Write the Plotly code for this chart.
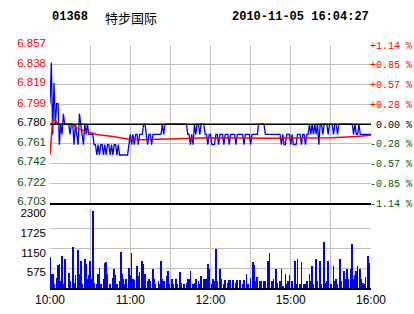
import plotly.graph_objects as go

# ---------------- data ----------------
stock_code = "01368"
stock_name = "特步国际"
timestamp = "2010-11-05 16:04:27"
prev_close = 6.78

# one price per trading minute (10:00-12:30, 14:30-16:00 -> 241 points)
prices = [
    6.80, 6.84, 6.77, 6.82, 6.78, 6.80, 6.80, 6.76, 6.78, 6.77,
    6.79, 6.78, 6.78, 6.78, 6.78, 6.77, 6.78, 6.78, 6.76, 6.78,
    6.77, 6.76, 6.79, 6.78, 6.77, 6.76, 6.78, 6.77, 6.78, 6.77,
    6.77, 6.77, 6.77, 6.76, 6.76, 6.75, 6.76, 6.75, 6.76, 6.76,
    6.75, 6.76, 6.75, 6.76, 6.76, 6.75, 6.76, 6.75, 6.76, 6.76,
    6.75, 6.76, 6.75, 6.75, 6.75, 6.75, 6.75, 6.75, 6.75, 6.76,
    6.77, 6.76, 6.77, 6.76, 6.77, 6.77, 6.76, 6.77, 6.77, 6.77,
    6.78, 6.78, 6.77, 6.76, 6.77, 6.77, 6.76, 6.77, 6.77, 6.77,
    6.77, 6.77, 6.77, 6.77, 6.78, 6.77, 6.78, 6.78, 6.78, 6.78,
    6.78, 6.78, 6.78, 6.78, 6.78, 6.78, 6.78, 6.78, 6.78, 6.78,
    6.78, 6.78, 6.78, 6.77, 6.77, 6.76, 6.77, 6.76, 6.78, 6.77,
    6.78, 6.78, 6.77, 6.78, 6.78, 6.78, 6.77, 6.77, 6.76, 6.77,
    6.77, 6.76, 6.76, 6.76, 6.77, 6.77, 6.76, 6.77, 6.77, 6.77,
    6.76, 6.77, 6.77, 6.77, 6.76, 6.77, 6.77, 6.77, 6.77, 6.76,
    6.77, 6.77, 6.77, 6.77, 6.77, 6.76, 6.77, 6.77, 6.77, 6.77,
    6.76, 6.77, 6.77, 6.77, 6.77, 6.77, 6.78, 6.78, 6.78, 6.78,
    6.78, 6.77, 6.77, 6.77, 6.77, 6.77, 6.77, 6.77, 6.77, 6.77,
    6.77, 6.77, 6.77, 6.76, 6.77, 6.76, 6.76, 6.77, 6.77, 6.77,
    6.76, 6.77, 6.76, 6.76, 6.76, 6.77, 6.77, 6.77, 6.76, 6.77,
    6.77, 6.76, 6.77, 6.77, 6.78, 6.77, 6.78, 6.77, 6.78, 6.77,
    6.78, 6.76, 6.78, 6.78, 6.77, 6.78, 6.78, 6.78, 6.77, 6.78,
    6.78, 6.78, 6.77, 6.78, 6.78, 6.77, 6.78, 6.78, 6.78, 6.78,
    6.78, 6.78, 6.78, 6.78, 6.78, 6.78, 6.78, 6.77, 6.78, 6.77,
    6.77, 6.78, 6.77, 6.77, 6.77, 6.77, 6.77, 6.77, 6.77, 6.77, 6.77,
]
minutes = list(range(len(prices)))

# average price line (read at change points)
avg_minutes = [0, 1, 2, 4, 6, 16, 18, 22, 29, 35, 47, 59, 69, 88, 120, 163, 187, 211, 229, 240]
avg_values = [6.750, 6.770, 6.784, 6.784, 6.780, 6.780, 6.778, 6.775, 6.772, 6.770,
              6.768, 6.7654, 6.7647, 6.7654, 6.7667, 6.7663, 6.7665, 6.7668, 6.768, 6.7693]

# volume bars
vol_minutes = [0, 1, 2, 3, 5, 6, 7, 8, 9, 10, 11, 14, 15, 17, 18, 19, 21, 22, 23, 24,
               26, 27, 28, 29, 30, 31, 32, 33, 35, 36, 37, 38, 40, 41, 42, 43, 45, 47, 48, 49,
               50, 52, 53, 54, 55, 56, 57, 59, 60, 61, 62, 63, 65, 66, 67, 69, 70, 71, 73, 74,
               75, 77, 78, 79, 81, 82, 83, 84, 85, 87, 88, 89, 91, 92, 94, 95, 97, 98, 100, 102,
               103, 104, 105, 107, 108, 109, 111, 112, 113, 115, 116, 117, 118, 119, 121, 122, 123, 124, 125, 127,
               128, 130, 131, 133, 134, 135, 137, 139, 140, 142, 144, 145, 147, 148, 150, 152, 153, 154, 155, 157,
               158, 160, 161, 163, 164, 166, 167, 169, 170, 172, 173, 174, 176, 177, 178, 179, 181, 183, 184, 185,
               187, 188, 190, 191, 192, 194, 195, 196, 197, 199, 200, 202, 203, 205, 206, 207, 208, 210, 212, 213,
               214, 215, 217, 218, 220, 221, 222, 223, 225, 226, 227, 228, 229, 230, 232, 233, 234, 235, 236, 238,
               239]
vol_values = [892, 388, 388, 97, 290, 650, 680, 194, 940, 97, 825, 417, 194, 1183, 145, 359, 1115, 388, 795, 97,
              825, 680, 243, 359, 795, 243, 2230, 145, 97, 388, 582, 97, 243, 708, 747, 388, 97, 290, 533, 359,
              97, 194, 1038, 388, 243, 97, 243, 582, 359, 1018, 262, 213, 630, 340, 456, 795, 680, 388, 194, 243,
              194, 533, 243, 97, 194, 97, 776, 243, 194, 340, 485, 97, 243, 97, 243, 97, 456, 145, 97, 145,
              243, 243, 485, 97, 145, 243, 194, 97, 340, 243, 262, 262, 680, 533, 97, 243, 194, 1135, 194, 533,
              243, 97, 213, 145, 213, 213, 213, 145, 213, 213, 97, 213, 388, 97, 272, 747, 660, 194, 320, 194,
              194, 194, 194, 776, 1018, 194, 243, 533, 145, 194, 553, 49, 388, 97, 194, 359, 194, 795, 97, 825,
              97, 747, 97, 97, 194, 388, 194, 630, 97, 825, 194, 795, 97, 1329, 145, 194, 776, 97, 630, 194,
              262, 97, 825, 194, 485, 262, 533, 243, 533, 1290, 243, 359, 485, 630, 533, 262, 145, 97, 320, 921,
              727]

price_ticks = [6.703, 6.722, 6.742, 6.761, 6.780, 6.799, 6.819, 6.838, 6.857]
pct_ticks = ["-1.14 %", "-0.85 %", "-0.57 %", "-0.28 %", "\u00a00.00 %", "+0.28 %", "+0.57 %", "+0.85 %", "+1.14 %"]
vol_ticks = [0, 575, 1150, 1725, 2300]
vol_tick_labels = ["", "575", "1150", "1725", "2300"]
time_ticks = [0, 30, 60, 90, 120, 150, 180, 210, 240]
time_labels = ["10:00", "", "11:00", "", "12:00", "", "15:00", "", "16:00"]

# ---------------- styling ----------------
RED = "#ff0000"
GREEN = "#005a00"
BLUE = "#0000ff"
GRID = "#c0c0c0"

y_lo, y_hi = 6.703, 6.857


def tick_color(v):
    if abs(v - prev_close) < 1e-9:
        return "#000000"
    return RED if v > prev_close else GREEN


price_text = ["<span style='color:%s'>%.3f</span>" % (tick_color(v), v) for v in price_ticks]
pct_text = ["<span style='color:%s'>%s</span>" % (tick_color(v), t) for v, t in zip(price_ticks, pct_ticks)]

fig = go.Figure()
fig.add_trace(go.Scatter(x=minutes, y=prices, mode="lines", line=dict(color=BLUE, width=1.3),
                         xaxis="x", yaxis="y", hoverinfo="skip"))
fig.add_trace(go.Scatter(x=avg_minutes, y=avg_values, mode="lines", line=dict(color=RED, width=1.5),
                         xaxis="x", yaxis="y", hoverinfo="skip"))
# invisible trace to activate right axis
fig.add_trace(go.Scatter(x=[minutes[0]], y=[prev_close], mode="lines", line=dict(width=0),
                         xaxis="x", yaxis="y3", hoverinfo="skip", showlegend=False))
fig.add_trace(go.Bar(x=vol_minutes, y=vol_values, marker=dict(color=BLUE, line=dict(width=0)),
                     width=0.5, xaxis="x2", yaxis="y2", hoverinfo="skip"))

fig.add_shape(type="line", xref="x", yref="y", x0=minutes[0], x1=minutes[-1],
              y0=prev_close, y1=prev_close, line=dict(color="#000000", width=1.5), layer="above")

axis_font = dict(family="Liberation Sans", size=11.5, color="#000000")

fig.update_layout(
    width=414, height=314,
    margin=dict(l=50, r=43, t=45, b=26),
    paper_bgcolor="white", plot_bgcolor="white",
    showlegend=False, bargap=0,
    xaxis=dict(range=[0, 240], tickmode="array", tickvals=time_ticks, domain=[0, 1], anchor="y",
               showticklabels=False, showgrid=True, gridcolor=GRID, gridwidth=1, zeroline=False,
               showline=True, linecolor="#000000", linewidth=2, automargin=False, fixedrange=True),
    xaxis2=dict(range=[0, 240], tickmode="array", tickvals=time_ticks, ticktext=time_labels,
                domain=[0, 1], anchor="y2", showticklabels=True, showgrid=True, gridcolor=GRID,
                gridwidth=1, zeroline=False, showline=True, linecolor="#000000", linewidth=2,
                tickfont=dict(family="Liberation Sans", size=12, color="#000000"), ticks="",
                automargin=False, fixedrange=True),
    yaxis=dict(domain=[0.3486, 1], range=[y_lo, y_hi], tickmode="array", tickvals=price_ticks,
               ticktext=price_text, showgrid=True, gridcolor=GRID, zeroline=False,
               tickfont=axis_font, ticks="", ticklabelstandoff=3, ticklabelshift=-2,
               automargin=False, fixedrange=True),
    yaxis3=dict(overlaying="y", side="right", anchor="x", range=[y_lo, y_hi], tickmode="array",
                tickvals=price_ticks, ticktext=pct_text, showgrid=False, zeroline=False,
                tickfont=dict(family="Liberation Mono", size=10), ticks="", ticklabelstandoff=-2,
                automargin=False, fixedrange=True),
    yaxis2=dict(domain=[0, 0.3239], range=[0, 2300], tickmode="array", tickvals=vol_ticks,
                ticktext=vol_tick_labels, showgrid=True, gridcolor=GRID, zeroline=False,
                tickfont=axis_font, ticks="", ticklabelstandoff=3, ticklabelshift=4,
                automargin=False, fixedrange=True),
)

title_font = dict(family="Liberation Mono", size=12, color="#000000")
fig.add_annotation(text="<b>%s</b>" % stock_code, xref="paper", yref="paper", x=0.0, y=1.115,
                   xanchor="left", yanchor="middle", showarrow=False, font=title_font)
fig.add_annotation(text=stock_name, xref="paper", yref="paper", x=0.165, y=1.115,
                   xanchor="left", yanchor="middle", showarrow=False,
                   font=dict(family="Noto Sans CJK SC", size=13, color="#000000"))
fig.add_annotation(text="<b>%s</b>" % timestamp, xref="paper", yref="paper", x=1.0, y=1.115,
                   xanchor="right", yanchor="middle", showarrow=False, font=title_font)

fig.write_html("out.html", config={"displayModeBar": False})
